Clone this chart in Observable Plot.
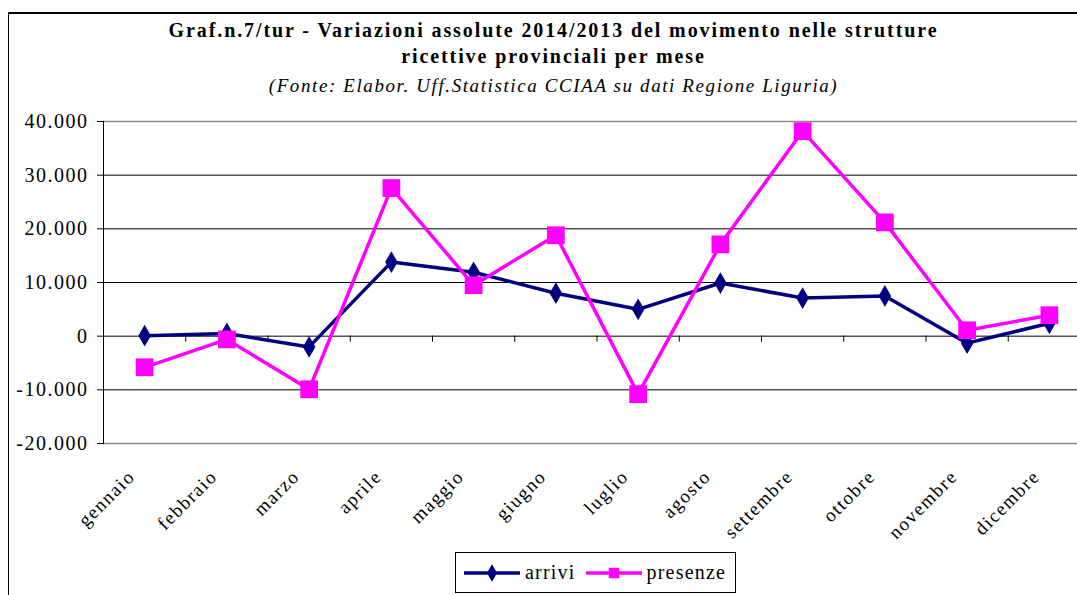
<!DOCTYPE html>
<html>
<head>
<meta charset="utf-8">
<script src="https://cdn.jsdelivr.net/npm/d3@7"></script>
<script src="https://cdn.jsdelivr.net/npm/@observablehq/plot@0.6"></script>
<style>
  html, body { margin: 0; padding: 0; background: #fff; }
  #wrap { position: relative; width: 1077px; height: 595px; overflow: hidden; background: #fff; font-family: "Liberation Serif", "Times New Roman", serif; }
  #frame { position: absolute; left: 8px; top: 12px; width: 1200px; height: 700px; border-left: 1px solid #000; border-top: 2px solid #000; }
  .t { position: absolute; left: 0; width: 1107px; text-align: center; color: #000; white-space: nowrap; }
  #t1 { top: 19px; font-size: 20px; font-weight: bold; letter-spacing: 1.9px; }
  #t2 { top: 45px; font-size: 20px; font-weight: bold; letter-spacing: 1.9px; }
  #t3 { top: 75px; font-size: 19px; font-style: italic; letter-spacing: 1.6px; }
  #chart { position: absolute; left: 0; top: 100px; width: 1090px; }
  #chart svg { max-width: none !important; }
  #legend { position: absolute; left: 455px; top: 552px; width: 281px; height: 41px; border: 1px solid #000; box-sizing: border-box; display: flex; align-items: center; padding-left: 7px; font-size: 20px; letter-spacing: 1.2px; background: #fff; }
  #legend .item { display: flex; align-items: center; margin-right: 9px; }
  #legend svg { margin-right: 4px; }
</style>
</head>
<body>
<div id="wrap">
  <div id="frame"></div>
  <div class="t" id="t1">Graf.n.7/tur - Variazioni assolute 2014/2013 del movimento nelle strutture</div>
  <div class="t" id="t2">ricettive provinciali per mese</div>
  <div class="t" id="t3">(Fonte: Elabor. Uff.Statistica CCIAA su dati Regione Liguria)</div>
  <div id="chart"></div>
  <div id="legend"></div>
</div>
<script>
const months = ["gennaio","febbraio","marzo","aprile","maggio","giugno","luglio","agosto","settembre","ottobre","novembre","dicembre"];
const arrivi = [100, 500, -2000, 13800, 11900, 8000, 5000, 9900, 7100, 7500, -1300, 2400];
const presenze = [-5800, -600, -9900, 27600, 9500, 18800, -10800, 17100, 38200, 21200, 1100, 3900];
const yTicks = [-20000, -10000, 0, 10000, 20000, 30000, 40000];
const seriesNames = ["arrivi", "presenze"];
const colors = ["#000080", "#FF00FF"];

const idx = months.map((_, i) => i);
const dataA = idx.map(i => ({i, v: arrivi[i]}));
const dataP = idx.map(i => ({i, v: presenze[i]}));
const boundaries = months.slice(1).map((_, i) => i + 0.5);
const fmt = v => d3.format(",")(v).replace(/,/g, ".").replace("−", "-");

const plot = Plot.plot({
  width: 1090,
  height: 453,
  marginLeft: 103,
  marginRight: 0,
  marginTop: 21,
  marginBottom: 110,
  style: { fontFamily: "'Liberation Serif', 'Times New Roman', serif", color: "#000", background: "transparent", overflow: "visible", letterSpacing: "1.5px", maxWidth: "none" },
  x: { domain: [-0.5, months.length - 0.5] },
  y: { domain: [yTicks[0], yTicks[yTicks.length - 1]] },
  marks: [
    Plot.gridY({ ticks: yTicks, stroke: "#000", strokeOpacity: 1, strokeWidth: 1 }),
    Plot.ruleY([yTicks[0], yTicks[yTicks.length - 1]], { stroke: "#8c8c8c", strokeWidth: 1.5 }),
    Plot.frame({ anchor: "left", stroke: "#000" }),
    Plot.ruleX(boundaries, { x: d => d, y1: 0, y2: 0, insetBottom: -6, stroke: "#000" }),
    Plot.axisY({ ticks: yTicks, tickFormat: fmt, tickSize: 6, tickPadding: 9, fontSize: 20, label: null, stroke: "#000" }),
    Plot.axisX({ ticks: idx, tickFormat: i => months[i], tickRotate: -45, tickSize: 0, tickPadding: 30, dx: -13, fontSize: 19, label: null }),
    Plot.line(dataA, { x: "i", y: "v", stroke: colors[0], strokeWidth: 3.5 }),
    Plot.dot(dataA, { x: "i", y: "v", symbol: "diamond", r: 6.6, fill: colors[0], stroke: "none" }),
    Plot.line(dataP, { x: "i", y: "v", stroke: colors[1], strokeWidth: 3.5 }),
    Plot.dot(dataP, { x: "i", y: "v", symbol: "square", r: 10, fill: colors[1], stroke: "none" })
  ]
});
document.getElementById("chart").appendChild(plot);

// Legend
const legend = d3.select("#legend");
seriesNames.forEach((name, k) => {
  const item = legend.append("div").attr("class", "item");
  const sw = item.append("svg").attr("width", 58).attr("height", 24);
  sw.append("line").attr("x1", 1).attr("x2", 57).attr("y1", 12).attr("y2", 12).attr("stroke", colors[k]).attr("stroke-width", 3.5);
  const sym = k === 0 ? d3.symbol(d3.symbolDiamond, 90) : d3.symbol(d3.symbolSquare, 110);
  sw.append("path").attr("d", sym()).attr("transform", "translate(29,12)").attr("fill", colors[k]);
  item.append("span").text(name);
});
</script>
</body>
</html>
